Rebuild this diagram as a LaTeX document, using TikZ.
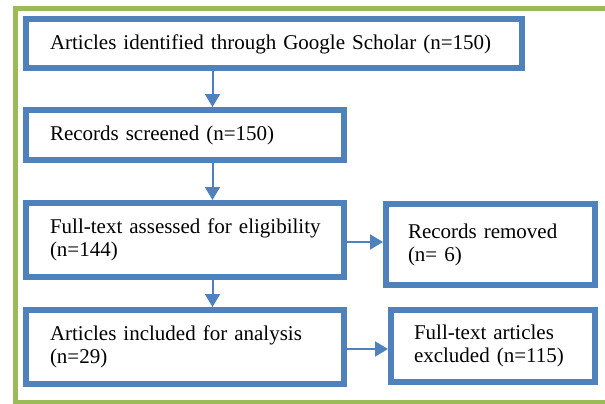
\documentclass[tikz,border=0pt]{standalone}
\usepackage{fontspec}
\setmainfont{Liberation Serif}
\usetikzlibrary{arrows.meta}
\definecolor{boxblue}{HTML}{4F81BD}
\definecolor{framegreen}{HTML}{9BBB59}
\hyphenpenalty=10000

\begin{document}
\begin{tikzpicture}
  [x=1pt,y=-1pt,
   flowbox/.style={draw=boxblue,line width=6pt,align=left,inner ysep=0pt,
     font=\fontsize{21}{23}\selectfont},
   flowarrow/.style={draw=boxblue,line width=2pt,-{Triangle[width=15pt,length=13pt]}}]
  \useasboundingbox (0,0) rectangle (605,404);
  \clip (0,0) rectangle (605,404);
  \draw[framegreen,line width=5pt] (15,9) rectangle (640,402);
  \node[flowbox,inner xsep=24pt,text width=448pt,minimum height=49pt,
    text height=18pt,text depth=5pt] (found) at (274,43.5)
    {Articles identified through Google Scholar (n=150)};
  \node[flowbox,inner xsep=24pt,text width=270pt,minimum height=50pt] (screen) at (185,135)
    {Records screened (n=150)};
  \node[flowbox,inner xsep=24pt,text width=270pt,minimum height=74pt] (assess) at (185,240)
    {\mbox{Full-text assessed for eligibility}\\(n=144)};
  \node[flowbox,inner xsep=22pt,text width=165pt,minimum height=81pt] (removed) at (490.5,244.5)
    {Records removed\\(n= 6)};
  \node[flowbox,inner xsep=24pt,text width=270pt,minimum height=74pt] (incl) at (185,347)
    {Articles included for analysis\\(n=29)};
  \node[flowbox,inner xsep=23pt,text width=158pt,minimum height=72pt] (excl) at (493,346)
    {Full-text articles\\excluded (n=115)};
  \coordinate (spine) at (212.5,0);
  \coordinate (row3) at (0,242);
  \coordinate (row5) at (0,349);
  \draw[flowarrow] (spine |- found.south) -- (spine |- screen.north);
  \draw[flowarrow] (spine |- screen.south) -- (spine |- assess.north);
  \draw[flowarrow] (spine |- assess.south) -- (spine |- incl.north);
  \draw[flowarrow] (assess.east |- row3) -- (removed.west |- row3);
  \draw[flowarrow] (incl.east |- row5) -- (excl.west |- row5);
\end{tikzpicture}
\end{document}
